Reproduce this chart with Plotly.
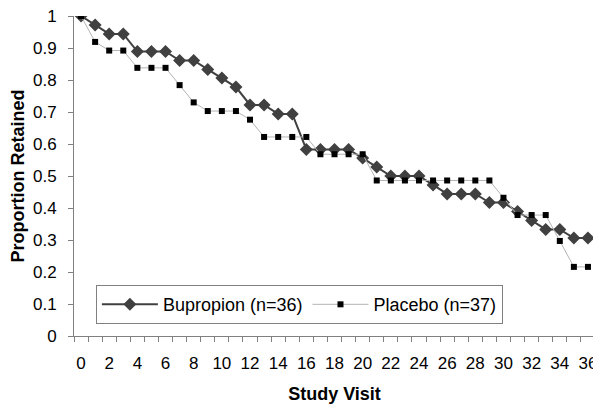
import plotly.graph_objects as go

visits = list(range(37))
bupropion = [1.0, 0.972, 0.944, 0.944, 0.889, 0.889, 0.889, 0.861, 0.861, 0.833,
             0.806, 0.778, 0.722, 0.722, 0.694, 0.694, 0.583, 0.583, 0.583, 0.583,
             0.556, 0.528, 0.5, 0.5, 0.5, 0.472, 0.444, 0.444, 0.444, 0.417,
             0.417, 0.389, 0.361, 0.333, 0.333, 0.306, 0.306]
placebo = [1.0, 0.919, 0.892, 0.892, 0.838, 0.838, 0.838, 0.784, 0.730, 0.703,
           0.703, 0.703, 0.676, 0.622, 0.622, 0.622, 0.622, 0.568, 0.568, 0.568,
           0.568, 0.486, 0.486, 0.486, 0.486, 0.486, 0.486, 0.486, 0.486, 0.486,
           0.432, 0.378, 0.378, 0.378, 0.297, 0.216, 0.216]
series_names = ["Bupropion (n=36)", "Placebo (n=37)"]
y_ticks = [0, 0.1, 0.2, 0.3, 0.4, 0.5, 0.6, 0.7, 0.8, 0.9, 1]
y_ticklabels = ["0", "0.1", "0.2", "0.3", "0.4", "0.5", "0.6", "0.7", "0.8", "0.9", "1"]
x_ticks = list(range(0, 37, 2))

FONT = "Liberation Sans, Arial, sans-serif"

fig = go.Figure()
fig.add_trace(go.Scatter(
    x=visits, y=bupropion, name=series_names[0], mode="lines+markers",
    line=dict(color="#404040", width=2),
    marker=dict(symbol="diamond", size=10, color="#404040"),
))
fig.add_trace(go.Scatter(
    x=visits, y=placebo, name=series_names[1], mode="lines+markers",
    line=dict(color="#b4b4b4", width=1),
    marker=dict(symbol="square", size=6, color="#000000"),
))

# the page body has an 8px default margin, so the figure is sized 8px smaller
fig.update_layout(
    width=593, height=400,
    margin=dict(l=66, r=6, t=8, b=72, autoexpand=False),
    paper_bgcolor="white", plot_bgcolor="white",
    font=dict(family=FONT, size=17, color="black"),
    showlegend=True,
    legend=dict(
        orientation="h", x=0.042, y=0.159, xanchor="left", yanchor="top",
        bordercolor="#808080", borderwidth=1, bgcolor="white",
        font=dict(family=FONT, size=18), itemwidth=56,
        tracegroupgap=0,
    ),
    xaxis=dict(
        range=[-0.5, 36.5], tickmode="array", tickvals=x_ticks,
        ticks="", showgrid=False, zeroline=False, automargin=False,
        showline=True, linecolor="#808080", linewidth=1,
        tickfont=dict(family=FONT, size=17), ticklabelstandoff=12,
        ticklabeloverflow="allow",
        minor=dict(tick0=-0.5, dtick=1, ticks="outside", ticklen=5,
                   tickcolor="#808080", showgrid=False),
        title=dict(text="<b>Study Visit</b>", font=dict(family=FONT, size=18), standoff=14),
    ),
    yaxis=dict(
        range=[0, 1], tickmode="array", tickvals=y_ticks, ticktext=y_ticklabels,
        ticks="outside", ticklen=13, tickcolor="rgba(0,0,0,0)", automargin=False,
        showgrid=False, zeroline=False, ticklabeloverflow="allow",
        showline=True, linecolor="#808080", linewidth=1,
        tickfont=dict(family=FONT, size=17),
        minor=dict(tick0=0, dtick=0.1, ticks="outside", ticklen=5,
                   tickcolor="#808080", showgrid=False),
        title=dict(text="<b>Proportion Retained</b>", font=dict(family=FONT, size=18), standoff=13),
    ),
)

fig.write_html("out.html")
